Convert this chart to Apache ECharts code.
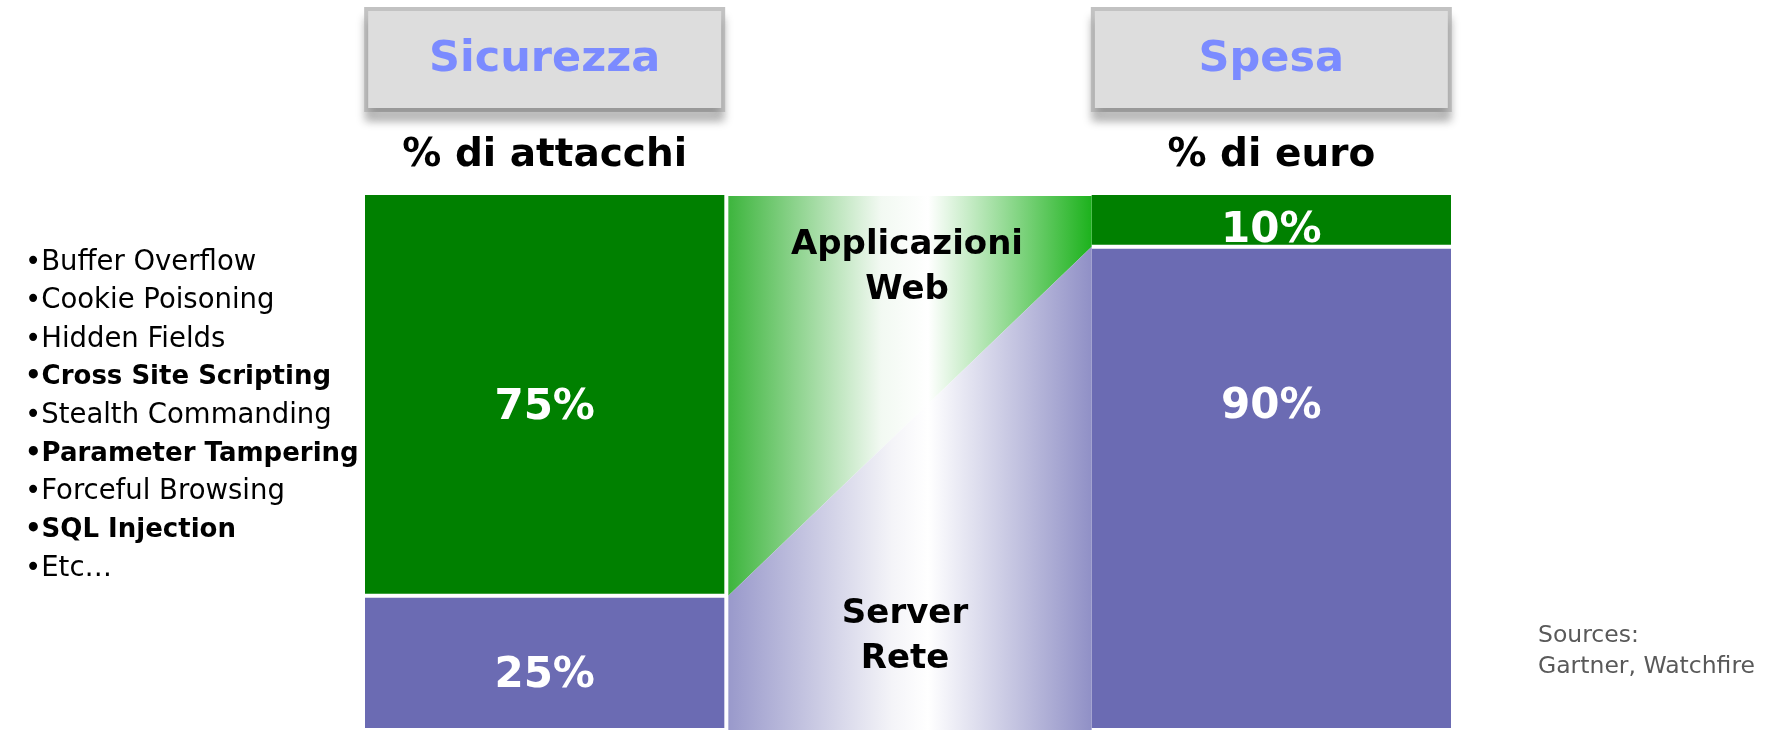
<!DOCTYPE html>
<html>
<head>
<meta charset="utf-8">
<script src="https://cdn.jsdelivr.net/npm/echarts@6/dist/echarts.min.js"></script>
<style>
  html, body { margin: 0; padding: 0; background: #fff; }
  #chart { width: 1766px; height: 730px; }
</style>
</head>
<body>
<div id="chart"></div>
<script>
// categories (header boxes) and the line under each
const categories = ['Sicurezza', '', 'Spesa'];
const subtitles = ['% di attacchi', '', '% di euro'];

// share of attacks / of spending, per target
const webShare = [75, '-', 10];
const networkShare = [25, '-', 90];
const webName = 'Applicazioni\nWeb';
const networkName = 'Server\nRete';

// attack list on the left, bold flags
const attackTypes = ['Buffer Overflow', 'Cookie Poisoning', 'Hidden Fields', 'Cross Site Scripting',
  'Stealth Commanding', 'Parameter Tampering', 'Forceful Browsing', 'SQL Injection', 'Etc\u2026'];
const attackBold = [false, false, false, true, false, true, false, true, false];

const sources = ['Sources:', 'Gartner, Watchfire'];

// label nudges (style only)
const webLabelOffset = [[0, 14], null, [0, 11]];
const netLabelOffset = [[0, 13], null, [0, -81]];

const FONT = 'DejaVu Sans';
const GREEN = '#008000';
const PURPLE = '#6b6bb3';

let chart = echarts.init(document.getElementById('chart'), null, { renderer: 'canvas' });

function barData(values, offsets) {
  return values.map((v, i) => {
    if (v === '-') return '-';
    return { value: v, label: { offset: offsets[i] } };
  });
}

let greenFade = new echarts.graphic.LinearGradient(0, 0, 1, 0, [
  { offset: 0, color: '#3db53d' },
  { offset: 0.42, color: '#f2f9f2' },
  { offset: 0.55, color: '#ffffff' },
  { offset: 1, color: '#1db21d' }
]);
let purpleFade = new echarts.graphic.LinearGradient(0, 0, 1, 0, [
  { offset: 0, color: '#9999cb' },
  { offset: 0.45, color: '#f4f4f8' },
  { offset: 0.55, color: '#ffffff' },
  { offset: 1, color: '#9090c6' }
]);

function renderMiddle(params, api) {
  let band = api.size([1, 0])[0];
  let cx = api.coord([api.value(0), 0])[0];
  let x0 = cx - band / 2 + 2, x1 = cx + band / 2 + 2;
  let top = api.coord([api.value(0), 100])[1] + 3;
  let bottom = api.coord([api.value(0), 0])[1];
  let yl = api.coord([api.value(0), api.value(1)])[1];
  let yr = api.coord([api.value(0), api.value(2)])[1];
  let textStyle = {
    fontFamily: FONT, fontWeight: 'bold', fontSize: 34, lineHeight: 45,
    fill: '#000', align: 'center', verticalAlign: 'middle'
  };
  return {
    type: 'group',
    children: [
      { type: 'polygon', shape: { points: [[x0, top], [x1, top], [x1, yr], [x0, yl]] }, style: { fill: greenFade } },
      { type: 'polygon', shape: { points: [[x0, yl], [x1, yr], [x1, bottom], [x0, bottom]] }, style: { fill: purpleFade } },
      { type: 'text', x: cx - 1, y: api.coord([api.value(0), 86.1])[1], style: Object.assign({ text: webName }, textStyle) },
      { type: 'text', x: cx - 3, y: api.coord([api.value(0), 17.4])[1], style: Object.assign({ text: networkName }, textStyle) }
    ]
  };
}

let listText = attackTypes.map((t, i) => '{' + (attackBold[i] ? 'b' : 'n') + '|\u2022' + t + '}').join('\n');

let option = {
  animation: false,
  backgroundColor: '#fff',
  grid: { left: 363, right: 313, top: 193, height: 539 },
  xAxis: {
    type: 'category',
    position: 'top',
    data: categories,
    axisLine: { show: false },
    axisTick: { show: false },
    axisLabel: {
      interval: 0,
      margin: -11,
      formatter: (v, i) => v ? '{box|' + v + '}\n{sub|' + subtitles[i] + '}' : '',
      rich: {
        box: {
          width: 353, height: 97, lineHeight: 97, align: 'center',
          backgroundColor: '#dddddd', borderColor: '#c2c2c2', borderWidth: 4,
          shadowColor: 'rgba(0,0,0,0.22)', shadowBlur: 9, shadowOffsetY: 10,
          color: '#7b8bff', fontFamily: FONT, fontWeight: 'bold', fontSize: 43
        },
        sub: {
          lineHeight: 96, align: 'center',
          color: '#000', fontFamily: FONT, fontWeight: 'bold', fontSize: 39
        }
      }
    }
  },
  yAxis: { type: 'value', min: 0, max: 100, show: false },
  series: [
    {
      name: 'Server Rete', type: 'bar', stack: 'share', barWidth: '100%',
      data: barData(networkShare, netLabelOffset),
      itemStyle: { color: PURPLE, borderColor: '#fff', borderWidth: 2 },
      label: { show: true, position: 'inside', formatter: '{c}%', color: '#fff', fontFamily: FONT, fontWeight: 'bold', fontSize: 42 }
    },
    {
      name: 'Applicazioni Web', type: 'bar', stack: 'share', barWidth: '100%',
      data: barData(webShare, webLabelOffset),
      itemStyle: { color: GREEN, borderColor: '#fff', borderWidth: 2 },
      label: { show: true, position: 'inside', formatter: '{c}%', color: '#fff', fontFamily: FONT, fontWeight: 'bold', fontSize: 42 }
    },
    {
      name: 'transizione', type: 'custom', z: 3,
      renderItem: renderMiddle,
      data: [[1, networkShare[0], networkShare[2]]],
      silent: true
    }
  ],
  graphic: [
    {
      type: 'text', left: 25, top: 249,
      style: {
        text: listText,
        rich: {
          n: { fontFamily: FONT, fontSize: 27.5, lineHeight: 38.2, fill: '#000' },
          b: { fontFamily: FONT, fontSize: 26, lineHeight: 38.2, fill: '#000', fontWeight: 'bold' }
        }
      }
    },
    {
      type: 'text', left: 1538, top: 620,
      style: { text: sources.join('\n'), fontFamily: FONT, fontSize: 23.5, lineHeight: 31, fill: '#595959' }
    }
  ]
};

chart.setOption(option);
</script>
</body>
</html>
